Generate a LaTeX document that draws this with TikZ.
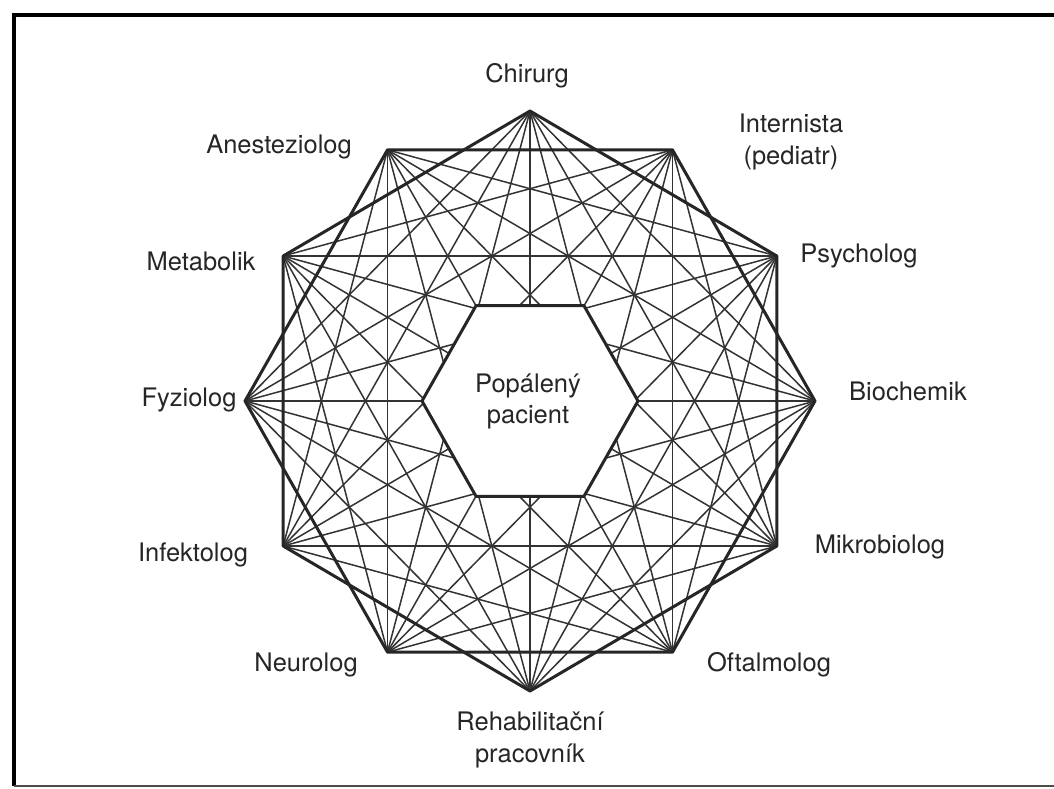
\documentclass[tikz,border=0pt]{standalone}
\usepackage{fontspec}
\setmainfont{TeX Gyre Heros}
\begin{document}
\begin{tikzpicture}[x=1pt,y=-1pt,
  thinline/.style={line width=1.5pt, draw=black!80},
  thickline/.style={line width=3pt, draw=black!85, line join=round},
  lbl/.style={font=\fontsize{25.5}{32}\selectfont, text=black!85, inner sep=0pt, align=center, anchor=base},
  clbl/.style={font=\fontsize{25.5}{31}\selectfont, text=black!85, inner sep=0pt, align=center, anchor=base},
  frameline/.style={line width=4pt, draw=black},
]
\useasboundingbox (0,0) rectangle (1054,788);
\fill[white] (0,0) rectangle (1054,788);
% frame
\draw[frameline] (1060,15) -- (14,15) -- (14,786);
\draw[line width=1.5pt, draw=black!70] (14,786) -- (1060,786);
% outer vertices
\foreach \i in {0,...,11}{
  \coordinate (v\i) at ({530+285*cos(90-30*\i)}, {401-290*sin(90-30*\i)});
}
% inner hexagon vertices
\foreach \k in {0,...,5}{
  \coordinate (h\k) at ({530+108*cos(60*\k)}, {401-110*sin(60*\k)});
}
% thin chords
\foreach \i in {0,...,11}{
  \foreach \s in {3,4,5}{
    \pgfmathtruncatemacro\j{mod(\i+\s,12)}
    \draw[thinline] (v\i) -- (v\j);
  }
}
\foreach \i in {0,...,5}{
  \pgfmathtruncatemacro\j{\i+6}
  \draw[thinline] (v\i) -- (v\j);
}
% thick hexagons (step 2)
\draw[thickline] (v0) -- (v2) -- (v4) -- (v6) -- (v8) -- (v10) -- cycle;
\draw[thickline] (v1) -- (v3) -- (v5) -- (v7) -- (v9) -- (v11) -- cycle;
% inner hexagon
\filldraw[thickline, fill=white] (h0) -- (h1) -- (h2) -- (h3) -- (h4) -- (h5) -- cycle;
% labels (base = baseline of last line)
\node[clbl] (pac) at (528,423) {Popálený\\pacient};
\node[lbl] (chir) at (527,82) {Chirurg};
\node[lbl] (inter) at (791,164) {Internista\\(pediatr)};
\node[lbl] (psych) at (859,262) {Psycholog};
\node[lbl] (bio) at (908,400) {Biochemik};
\node[lbl] (mikro) at (880,553) {Mikrobiolog};
\node[lbl] (oft) at (769,671) {Oftalmolog};
\node[lbl] (reh) at (530,762) {Rehabilitační\\pracovník};
\node[lbl] (neuro) at (306,671) {Neurolog};
\node[lbl] (inf) at (193,561) {Infektolog};
\node[lbl] (fyz) at (189,406) {Fyziolog};
\node[lbl] (meta) at (201,270) {Metabolik};
\node[lbl] (anest) at (279,153) {Anesteziolog};
\end{tikzpicture}
\end{document}
